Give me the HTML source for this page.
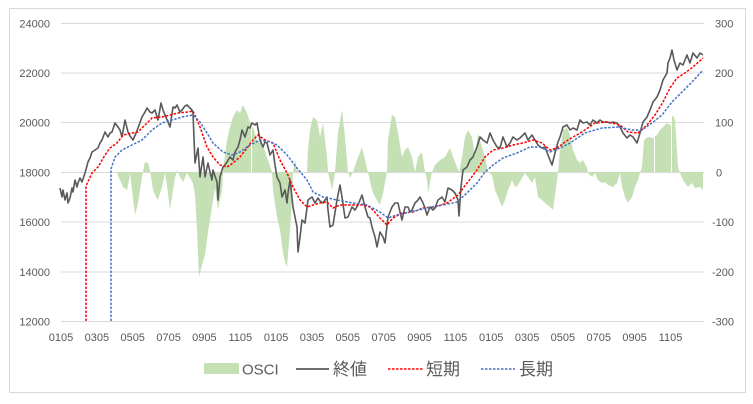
<!DOCTYPE html>
<html><head><meta charset="utf-8"><style>
html,body{margin:0;padding:0;background:#fff;}
svg{display:block;}
text{font-family:"Liberation Sans","Noto Sans CJK JP",sans-serif;fill:#595959;}
</style></head><body>
<svg width="753" height="404" viewBox="0 0 753 404" xmlns="http://www.w3.org/2000/svg">
<rect x="9.5" y="8.5" width="736" height="384" fill="#fff" stroke="#d9d9d9" stroke-width="1"/>
<g stroke="#d9d9d9" stroke-width="1">
<line x1="61" y1="23.5" x2="704" y2="23.5"/>
<line x1="61" y1="73" x2="704" y2="73"/>
<line x1="61" y1="122.5" x2="704" y2="122.5"/>
<line x1="61" y1="172.5" x2="704" y2="172.5"/>
<line x1="61" y1="222" x2="704" y2="222"/>
<line x1="61" y1="272" x2="704" y2="272"/>
<line x1="61" y1="321.5" x2="704" y2="321.5"/>
</g>
<g font-size="11" text-anchor="end">
<text x="50" y="27.5">24000</text>
<text x="50" y="77">22000</text>
<text x="50" y="126.5">20000</text>
<text x="50" y="176.5">18000</text>
<text x="50" y="226">16000</text>
<text x="50" y="276">14000</text>
<text x="50" y="325.5">12000</text>
</g>
<g font-size="11" text-anchor="start">
<text x="715" y="27.5">300</text>
<text x="715" y="77">200</text>
<text x="715" y="126.5">100</text>
<text x="716" y="176.5">0</text>
<text x="712" y="226">-100</text>
<text x="712" y="276">-200</text>
<text x="712" y="325.5">-300</text>
</g>
<g font-size="11" text-anchor="middle">
<text x="61" y="341">0105</text>
<text x="96.9" y="341">0305</text>
<text x="132.7" y="341">0505</text>
<text x="168.6" y="341">0705</text>
<text x="204.4" y="341">0905</text>
<text x="240.3" y="341">1105</text>
<text x="276.1" y="341">0105</text>
<text x="312" y="341">0305</text>
<text x="347.8" y="341">0505</text>
<text x="383.7" y="341">0705</text>
<text x="419.5" y="341">0905</text>
<text x="455.4" y="341">1105</text>
<text x="491.2" y="341">0105</text>
<text x="527.1" y="341">0305</text>
<text x="562.9" y="341">0505</text>
<text x="598.8" y="341">0705</text>
<text x="634.6" y="341">0905</text>
<text x="670.5" y="341">1105</text>
</g>
<polygon fill="#c5e0b4" points="117,172 118,176 120,180 123,187 127,190 129,180 130,173 132,190 135,215 138,203 140,190 142,177 145,162 148,163 150,170 153,190 156,197 158,200 162,187 165,173 167,185 170,210 173,190 175,178 177,170 180,177 183,182 187,173 190,178 193,183 195,195 197,230 199,277 202,265 205,255 208,232 210,220 212,207 215,187 218,210 222,190 223,172 225,155 227,140 230,127 233,117 237,110 240,113 243,105 247,113 250,123 251,123 251,172 252,172 252,127 253,127 257,140 262,143 267,157 272,172 273,190 277,217 280,230 283,253 285,262 287,267 290,230 292,200 293,172 295,160 297,170 300,172 307,172 308,150 310,130 313,117 317,120 320,137 323,123 327,157 328,172 332,190 335,172 338,133 342,110 345,137 348,172 350,178 353,172 357,160 362,147 365,160 368,172 372,190 375,197 380,205 383,193 387,172 388,140 392,115 395,117 398,133 402,157 405,150 408,147 412,157 415,172 418,157 422,152 425,172 427,180 428,193 432,172 435,165 440,160 445,157 450,148 453,157 457,167 459,172 462,157 465,137 468,130 472,137 475,157 478,133 482,147 485,157 488,172 492,175 495,190 498,197 502,207 505,200 508,190 512,180 515,187 518,185 522,178 525,173 528,177 532,183 535,177 538,197 542,200 545,203 550,207 553,210 555,195 557,180 558,172 560,150 563,130 567,128 570,135 573,150 577,160 580,163 583,160 587,168 588,173 592,177 595,173 598,180 602,183 605,182 608,185 613,187 617,183 620,173 622,187 625,197 628,203 632,197 635,187 638,180 640,173 642,167 644,140 648,137 653,138 654,138 654,172 655,172 655,136 657,135 660,130 663,127 667,123 670,125 671,125 671,172 672,172 672,117 673,115 675,120 678,167 680,173 683,180 688,187 692,183 695,188 700,187 703,190 703,172"/>
<polyline fill="none" stroke="#595959" stroke-width="1.6" stroke-linejoin="round" points="60,188 62,197 63,190 65,200 67,193 68,203 70,198 72,188 73,192 75,180 77,187 78,183 80,178 82,182 85,173 88,162 90,158 92,152 95,150 98,148 100,143 102,140 105,132 108,137 110,133 112,132 115,123 118,127 120,130 122,137 125,120 128,132 130,136 133,140 136,133 138,128 142,117 145,112 147,108 150,112 152,113 155,110 158,120 161,103 163,110 165,115 168,122 170,127 173,107 175,108 177,105 180,112 182,110 185,106 187,105 190,108 192,110 193,113 195,163 198,148 200,177 203,157 205,177 208,163 210,172 212,180 213,170 215,176 217,182 218,200 220,177 223,167 225,165 227,162 230,157 233,160 235,152 238,147 240,140 242,130 245,137 248,127 250,128 252,123 255,125 257,123 260,140 263,147 265,142 267,143 270,155 273,150 275,165 277,177 280,183 282,197 285,190 287,203 288,193 290,180 293,207 297,227 298,252 300,237 302,220 305,223 308,200 312,197 315,203 318,198 320,201 323,203 327,197 328,210 330,227 333,225 337,200 340,185 342,197 345,218 348,217 352,207 355,210 358,205 362,195 365,207 368,217 370,218 372,227 375,237 377,247 380,232 383,237 385,243 388,217 392,207 395,203 398,203 400,212 402,220 405,207 408,207 410,212 412,210 415,203 418,200 420,197 423,203 425,208 427,215 430,207 433,210 435,208 438,200 442,197 445,202 448,188 452,190 455,193 458,200 459,216 461,187 463,170 467,167 470,160 473,157 477,147 480,137 483,140 487,143 490,133 493,140 497,147 500,148 503,137 507,147 510,143 513,137 517,140 520,138 525,133 528,140 532,135 535,140 538,145 542,148 545,147 548,155 552,165 555,153 558,142 560,137 563,127 567,125 570,130 573,128 577,130 580,120 583,123 587,122 590,125 593,120 597,123 600,120 603,122 607,122 610,123 613,122 617,123 620,127 623,133 627,138 630,135 633,137 637,143 640,133 643,122 647,117 650,110 653,102 657,97 660,90 663,80 667,73 668,63 670,58 672,50 674,60 677,70 680,63 683,65 687,55 690,63 693,53 697,58 700,53 703,55"/>
<polyline fill="none" stroke="#ff0000" stroke-width="1.5" stroke-dasharray="2.5,1.5" points="86,321 86,186 92,173 98,167 105,155 110,148 117,143 123,135 132,133 138,132 145,125 152,118 162,117 170,115 178,113 188,112 193,111 200,127 207,147 213,157 220,165 227,167 233,163 240,157 247,148 253,140 258,135 265,140 273,143 280,160 287,173 293,187 300,200 307,207 313,205 320,203 327,202 333,208 340,205 347,205 353,205 362,205 370,207 380,218 387,225 393,218 402,213 413,212 423,208 435,207 447,203 458,195 467,183 477,170 485,157 493,150 503,148 513,145 523,143 533,140 542,143 550,150 557,148 568,140 582,132 595,123 608,122 620,125 628,132 638,133 647,125 655,115 663,102 670,88 677,78 685,73 693,67 703,58"/>
<polyline fill="none" stroke="#4472c4" stroke-width="1.5" stroke-dasharray="2.5,1.5" points="111,321 111,169 115,157 122,150 132,145 142,140 152,130 162,123 172,120 182,117 193,115 200,122 207,133 213,143 223,152 232,155 240,152 250,145 260,140 270,142 277,145 287,155 297,168 307,180 313,192 323,197 337,200 353,203 367,205 380,212 388,218 397,215 410,212 427,208 443,205 457,202 467,193 477,183 485,172 493,165 503,158 517,153 530,147 540,147 550,152 560,148 570,143 585,133 602,128 618,127 632,130 642,130 652,123 662,115 672,102 682,92 692,82 703,70"/>
<rect x="204" y="363" width="35" height="11" fill="#c5e0b4"/>
<text x="242" y="374.5" font-size="15">OSCI</text>
<line x1="296" y1="369" x2="329" y2="369" stroke="#595959" stroke-width="1.8"/>
<text x="333" y="375" font-size="17">終値</text>
<line x1="388" y1="369" x2="423" y2="369" stroke="#ff0000" stroke-width="1.5" stroke-dasharray="2.5,1.5"/>
<text x="426" y="375" font-size="17">短期</text>
<line x1="481" y1="369" x2="515" y2="369" stroke="#4472c4" stroke-width="1.5" stroke-dasharray="2.5,1.5"/>
<text x="519" y="375" font-size="17">長期</text>
</svg>
</body></html>
